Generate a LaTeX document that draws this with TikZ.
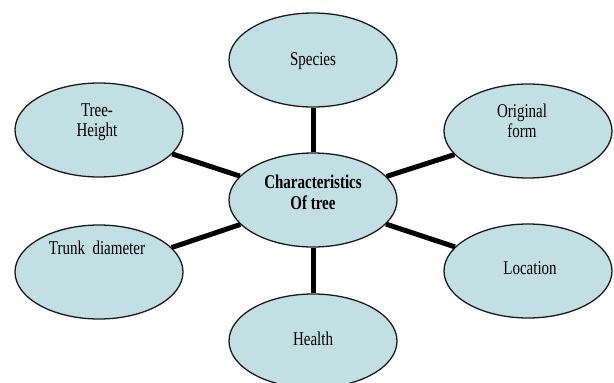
\documentclass[tikz,border=0pt]{standalone}
\usepackage{fontspec}
\setmainfont{Liberation Serif}
\usetikzlibrary{shapes.geometric}
\definecolor{bubfill}{HTML}{C2E0E4}
\definecolor{bubline}{HTML}{1A1A1A}
\begin{document}
\begin{tikzpicture}[x=1pt,y=1pt,
  bub/.style={ellipse,draw=bubline,line width=1.3pt,fill=bubfill,inner sep=0pt,minimum width=168pt,minimum height=94pt},
  txt/.style={align=center,font=\fontsize{15}{15.5}\selectfont,yscale=1.3,transform shape,inner sep=0pt},
  ctrtxt/.style={txt,font=\fontsize{15}{16}\selectfont\bfseries},
  spoke/.style={line width=5pt,black}]
\useasboundingbox (0,0) rectangle (614,-383);
\begin{scope}
\clip (0,0) rectangle (614,-383);
% bubbles
\node[bub] (sp) at (313,-60) {};
\node[bub] (th) at (99,-130) {};
\node[bub] (of) at (528,-131) {};
\node[bub] (c) at (313,-200) {};
\node[bub] (td) at (99,-272) {};
\node[bub] (lo) at (528,-271) {};
\node[bub] (he) at (313,-341) {};
% spokes
\draw[spoke] (c) -- (sp);
\draw[spoke] (c) -- (th);
\draw[spoke] (c) -- (of);
\draw[spoke] (c) -- (td);
\draw[spoke] (c) -- (lo);
\draw[spoke] (c) -- (he);
% texts
\node[txt] (spt) at ([yshift=-1pt]sp.center) {Species};
\node[txt] (tht) at ([xshift=-2pt,yshift=8pt]th.center) {Tree-\\Height};
\node[txt] (oft) at ([xshift=-6pt,yshift=10pt]of.center) {Original\\form};
\node[ctrtxt] (ct) at ([yshift=8pt]c.center) {Characteristics\\Of tree};
\node[txt] (tdt) at ([xshift=-2pt,yshift=24pt]td.center) {Trunk\ \ diameter};
\node[txt] (lot) at ([xshift=2pt,yshift=3pt]lo.center) {Location};
\node[txt] (het) at ([yshift=2pt]he.center) {Health};
\end{scope}
\end{tikzpicture}
\end{document}
